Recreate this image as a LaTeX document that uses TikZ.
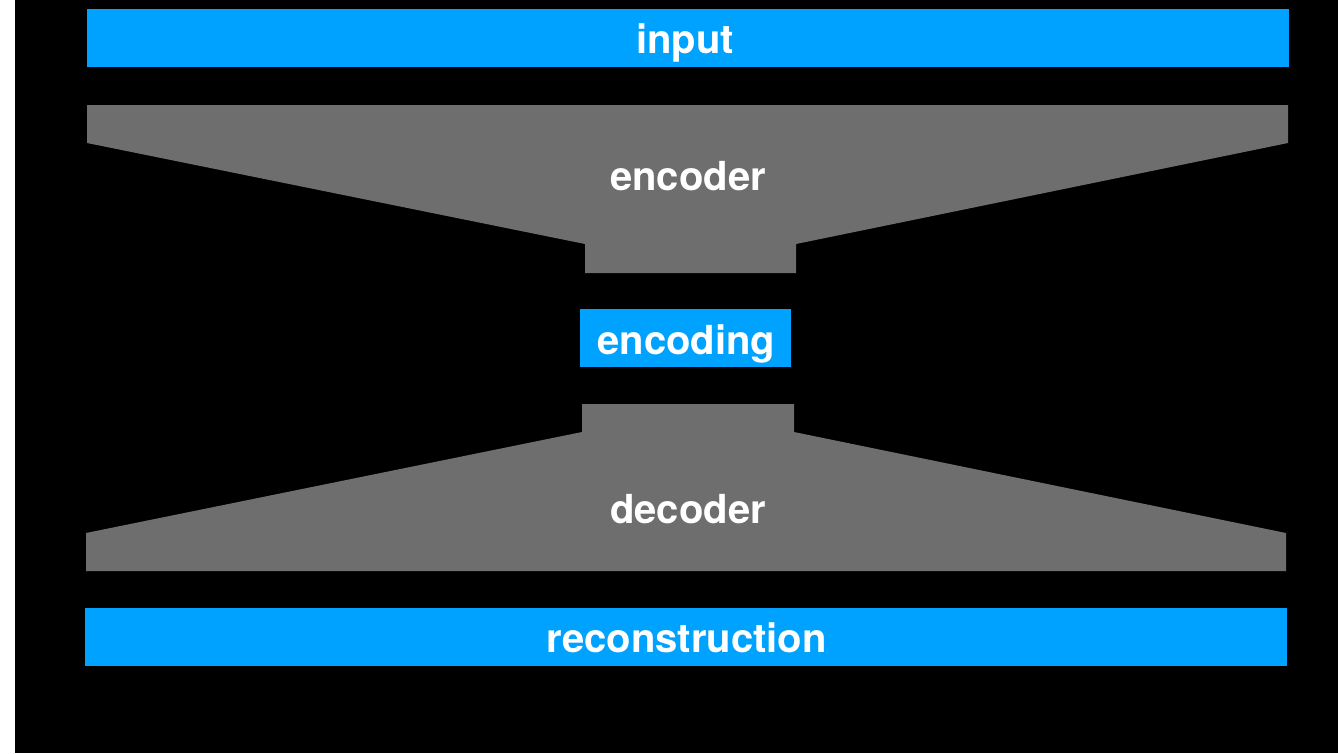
\documentclass[tikz,border=0pt]{standalone}
\usepackage{fontspec}
\setmainfont{TeX Gyre Heros}
\definecolor{barblue}{HTML}{00A2FF}
\definecolor{stagegray}{HTML}{6E6E6E}
\begin{document}
\begin{tikzpicture}[x=1pt,y=-1pt,
  lbl/.style={text=white,font=\bfseries\fontsize{40}{40}\selectfont,anchor=base,inner sep=0pt},
  bar/.style={fill=barblue,draw=none,inner sep=0pt,anchor=north west},
  stage/.style={fill=stagegray,draw=none}]
\useasboundingbox (0,0) rectangle (1338,753);
% page background
\fill[white] (0,0) rectangle (15,753);
\fill[black] (15,0) rectangle (1338,753);

% input bar
\node[bar,minimum width=1202pt,minimum height=58pt] (inbar) at (87,9) {};
\node[lbl] (input) at (685,53) {input};

% encoder funnel
\fill[stage] (87,105) -- (1288,105) -- (1288,143) -- (796,244) -- (796,273)
  -- (585,273) -- (585,244) -- (87,143) -- cycle;
\node[lbl] (encoder) at (688,190) {encoder};

% encoding bar
\node[bar,minimum width=211pt,minimum height=58pt] (encbar) at (580,309) {};
\node[lbl] (encoding) at (686.5,354) {encoding};

% decoder funnel
\fill[stage] (582,404) -- (794,404) -- (794,432) -- (1286,533) -- (1286,571)
  -- (86,571) -- (86,533) -- (582,432) -- cycle;
\node[lbl] (decoder) at (688,523.5) {decoder};

% reconstruction bar
\node[bar,minimum width=1202pt,minimum height=58pt] (recbar) at (85,608) {};
\node[lbl] (reconstruction) at (686.5,652) {reconstruction};
\end{tikzpicture}
\end{document}
